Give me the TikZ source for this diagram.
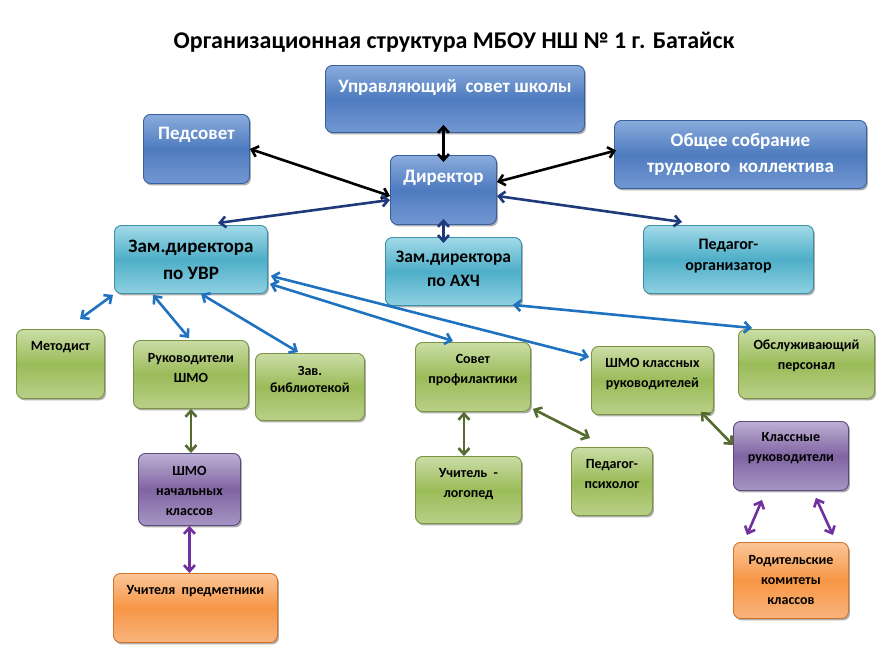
\documentclass[tikz,border=0pt]{standalone}
\usepackage{fontspec}
\setmainfont{Carlito}
\usetikzlibrary{arrows.meta,shadows}
\definecolor{dbT}{HTML}{8AACDD}\definecolor{dbM}{HTML}{4E7BBF}\definecolor{dbB}{HTML}{7398D2}\definecolor{dbD}{HTML}{3A5F9E}
\definecolor{lbT}{HTML}{A2DAE8}\definecolor{lbM}{HTML}{4EAEC8}\definecolor{lbB}{HTML}{8FD0E2}\definecolor{lbD}{HTML}{3C8FA8}
\definecolor{grT}{HTML}{CADDA6}\definecolor{grM}{HTML}{9BBB59}\definecolor{grB}{HTML}{B9D088}\definecolor{grD}{HTML}{7A9440}
\definecolor{puT}{HTML}{BDB0D4}\definecolor{puM}{HTML}{8064A2}\definecolor{puB}{HTML}{A796C4}\definecolor{puD}{HTML}{5E4880}
\definecolor{orT}{HTML}{FBC698}\definecolor{orM}{HTML}{F79646}\definecolor{orB}{HTML}{F9B47C}\definecolor{orD}{HTML}{D2742A}
\definecolor{navy}{HTML}{1F3A7A}\definecolor{ablue}{HTML}{1F72C0}\definecolor{olive}{HTML}{556B2F}\definecolor{apurple}{HTML}{7030A0}
\begin{document}
\begin{tikzpicture}[x=1pt,y=-1pt,
  box/.style={rounded corners=7pt, line width=0.9pt, anchor=north west, inner sep=0pt,
    drop shadow={shadow xshift=1.5pt, shadow yshift=-2pt, opacity=0.45, fill=black!70}},
  db/.style={box, draw=dbD, top color=dbT, bottom color=dbB, middle color=dbM},
  lb/.style={box, draw=lbD, top color=lbT, bottom color=lbB, middle color=lbM},
  gr/.style={box, draw=grD, top color=grT, bottom color=grB, middle color=grM},
  pu/.style={box, draw=puD, top color=puT, bottom color=puB, middle color=puM},
  orx/.style={box, draw=orD, top color=orT, bottom color=orB, middle color=orM},
  wt/.style={text=white, align=center, inner sep=0pt},
  bt/.style={text=black, align=center, inner sep=0pt},
  arr/.style={{Straight Barb[length=6pt,width=11pt]}-{Straight Barb[length=6pt,width=11pt]}, line width=2.6pt},
]
\useasboundingbox (0,0) rectangle (891,657);
\fill[white] (0,0) rectangle (891,657);

\node[inner sep=0pt] (title) at (454,42) {\bfseries\fontsize{24}{28}\selectfont Организационная структура МБОУ НШ № 1 г. Батайск};

% boxes
\node[db, minimum width=259pt, minimum height=67pt] (upr) at (325,65) {};
\node[db, minimum width=106pt, minimum height=69pt] (ped) at (143,114) {};
\node[db, minimum width=106pt, minimum height=69pt] (dir) at (390,155) {};
\node[db, minimum width=252pt, minimum height=68pt] (ob) at (614,120) {};
\node[lb, minimum width=153pt, minimum height=68pt] (uvr) at (114,225) {};
\node[lb, minimum width=136pt, minimum height=68pt] (axc) at (385,237) {};
\node[lb, minimum width=170pt, minimum height=68pt] (po) at (643,225) {};
\node[gr, minimum width=88pt, minimum height=69pt] (met) at (16,329) {};
\node[gr, minimum width=115pt, minimum height=68pt] (ruk) at (133,340) {};
\node[gr, minimum width=109pt, minimum height=67pt] (zav) at (255,353) {};
\node[gr, minimum width=115pt, minimum height=69pt] (sov) at (415,342) {};
\node[gr, minimum width=122pt, minimum height=68pt] (shmk) at (591,346) {};
\node[gr, minimum width=136pt, minimum height=69pt] (obs) at (738,329) {};
\node[pu, minimum width=102pt, minimum height=72pt] (shn) at (138,453) {};
\node[gr, minimum width=106pt, minimum height=67pt] (log) at (415,456) {};
\node[gr, minimum width=81pt, minimum height=68pt] (psy) at (571,447) {};
\node[pu, minimum width=115pt, minimum height=69pt] (kl) at (733,421) {};
\node[orx, minimum width=164pt, minimum height=69pt] (uch) at (113,573) {};
\node[orx, minimum width=115pt, minimum height=76pt] (rod) at (733,542) {};

% texts
\node[wt, font=\bfseries\fontsize{19}{26}\selectfont] (upr-t) at ([yshift=-23pt]upr.north) {Управляющий\ \ совет школы};
\node[wt, font=\bfseries\fontsize{19}{26}\selectfont] (ped-t) at ([yshift=-21pt]ped.north) {Педсовет};
\node[wt, font=\bfseries\fontsize{19}{26}\selectfont] (dir-t) at ([yshift=-23pt]dir.north) {Директор};
\node[wt, font=\bfseries\fontsize{19}{26}\selectfont] (ob-t) at ([yshift=-34pt]ob.north) {Общее собрание\\трудового\ \ коллектива};
\node[bt, font=\bfseries\fontsize{19}{27}\selectfont] (uvr-t) at ([yshift=-34.5pt]uvr.north) {Зам.директора\\по УВР};
\node[bt, font=\bfseries\fontsize{17.5}{24}\selectfont] (axc-t) at ([yshift=-32pt]axc.north) {Зам.директора\\по АХЧ};
\node[bt, font=\bfseries\fontsize{16}{21}\selectfont] (po-t) at ([yshift=-31.5pt]po.north) {Педагог-\\организатор};
\node[bt, font=\bfseries\fontsize{14}{20}\selectfont] (met-t) at ([yshift=-18pt]met.north) {Методист};
\node[bt, font=\bfseries\fontsize{14}{20}\selectfont] (ruk-t) at ([yshift=-28pt]ruk.north) {Руководители\\ШМО};
\node[bt, font=\bfseries\fontsize{14}{17}\selectfont] (zav-t) at ([yshift=-26.5pt]zav.north) {Зав.\\библиотекой};
\node[bt, font=\bfseries\fontsize{14}{20}\selectfont] (sov-t) at ([yshift=-28pt]sov.north) {Совет\\профилактики};
\node[bt, font=\bfseries\fontsize{14}{20}\selectfont] (shmk-t) at ([yshift=-28pt]shmk.north) {ШМО классных\\руководителей};
\node[bt, font=\bfseries\fontsize{14}{20}\selectfont] (obs-t) at ([yshift=-27pt]obs.north) {Обслуживающий\\персонал};
\node[bt, font=\bfseries\fontsize{14}{20}\selectfont] (shn-t) at ([yshift=-38pt]shn.north) {ШМО\\начальных\\классов};
\node[bt, font=\bfseries\fontsize{14}{20}\selectfont] (log-t) at ([yshift=-28pt]log.north) {Учитель\ \ -\\логопед};
\node[bt, font=\bfseries\fontsize{14}{20}\selectfont] (psy-t) at ([yshift=-27pt]psy.north) {Педагог-\\психолог};
\node[bt, font=\bfseries\fontsize{14}{20}\selectfont] (kl-t) at ([yshift=-27pt]kl.north) {Классные\\руководители};
\node[bt, font=\bfseries\fontsize{14}{20}\selectfont] (uch-t) at ([yshift=-18pt]uch.north) {Учителя\ \ предметники};
\node[bt, font=\bfseries\fontsize{14}{20}\selectfont] (rod-t) at ([yshift=-38pt]rod.north) {Родительские\\комитеты\\классов};

% connectors
\draw[arr, black] ([yshift=-7pt]dir.north) -- ([yshift=8pt]dir.north |- upr.south);
\draw[arr, black] (ped.east) -- ([yshift=-6pt]dir.west);
\draw[arr, black] ([yshift=8pt]dir.east) -- ([xshift=2pt,yshift=4pt]ob.west);
\draw[arr, navy] ([yshift=-10pt]dir.west) -- ([xshift=27pt,yshift=2pt]uvr.north);
\draw[arr, navy] ([yshift=-6pt]dir.east) -- ([xshift=39pt,yshift=3pt]po.north west);
\draw[arr, navy] ([yshift=6pt]dir.south) -- ([yshift=-6pt]dir.south |- axc.north);
\draw[arr, ablue] ([xshift=-1pt,yshift=-1pt]uvr.south west) -- ([xshift=64pt,yshift=10pt]met.north west);
\draw[arr, ablue] ([xshift=39pt,yshift=-1pt]uvr.south west) -- ([xshift=56pt,yshift=2pt]ruk.north west);
\draw[arr, ablue] ([xshift=87pt]uvr.south west) -- ([xshift=43pt,yshift=1pt]zav.north west);
\draw[arr, ablue] ([xshift=2pt,yshift=10pt]uvr.south east) -- ([xshift=38pt,yshift=1pt]sov.north west);
\draw[arr, ablue] ([xshift=3pt,yshift=18pt]uvr.south east) -- ([xshift=-2pt,yshift=-11pt]shmk.north west);
\draw[arr, ablue] ([xshift=-9pt,yshift=1pt]axc.south east) -- ([xshift=14pt,yshift=1pt]obs.north west);
\draw[arr, olive] (ruk.south) -- (ruk.south |- shn.north);
\draw[arr, apurple] (shn.south) -- (shn.south |- uch.north);
\draw[arr, olive] ([xshift=-9pt]sov.south) -- ([xshift=-9pt]sov.south |- log.north);
\draw[arr, olive] ([xshift=2pt,yshift=3pt]sov.south east) -- ([xshift=19pt,yshift=9pt]psy.north west);
\draw[arr, olive] ([xshift=-13pt,yshift=3pt]shmk.south east) -- ([yshift=-24pt]kl.north west);
\draw[arr, apurple] ([xshift=29pt,yshift=-9pt]kl.south west) -- ([xshift=14pt,yshift=7pt]rod.north west);
\draw[arr, apurple] ([xshift=-33pt,yshift=-7pt]kl.south east) -- ([xshift=-16pt,yshift=7pt]rod.north east);
\end{tikzpicture}
\end{document}
